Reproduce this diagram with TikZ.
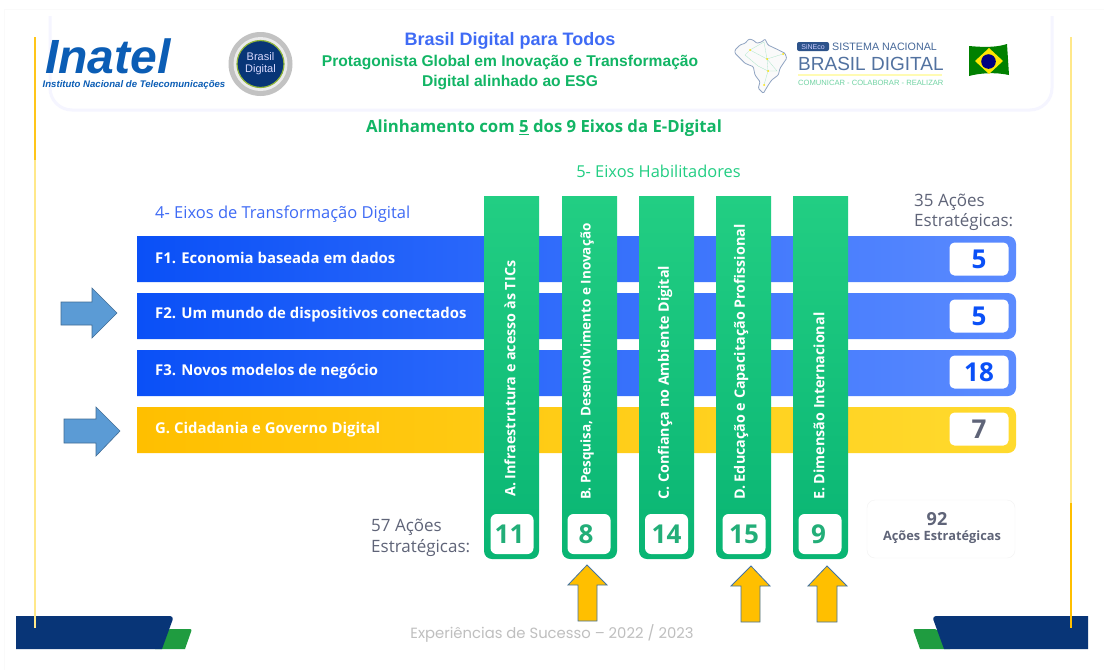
\documentclass[tikz,border=0pt]{standalone}
\usepackage{fontspec}
\setmainfont{Open Sans}
\newfontfamily\headfont{Liberation Sans}
\newfontfamily\footfont{Poppins}
\usepackage{tikz}

\definecolor{barblue}{HTML}{0A50F7}
\definecolor{barblueend}{HTML}{5B8BFF}
\definecolor{baryellow}{HTML}{FFBF00}
\definecolor{baryellowend}{HTML}{FFDA2E}
\definecolor{coltop}{HTML}{22CE83}
\definecolor{colbot}{HTML}{09B573}
\definecolor{coldigit}{HTML}{22AE78}
\definecolor{titleblue}{HTML}{3F6BF5}
\definecolor{titlegreen}{HTML}{12B565}
\definecolor{navy}{HTML}{083577}
\definecolor{footgreen}{HTML}{1F9C40}
\definecolor{greytext}{HTML}{5F6478}
\definecolor{arrowblue}{HTML}{5B9BD5}
\definecolor{inatelblue}{HTML}{0B5DB5}
\definecolor{paleline}{HTML}{FFE88A}

\tikzset{
  rowtext/.style={text=white,font=\bfseries\fontsize{14.9}{16}\selectfont,anchor=base west,inner sep=0pt},
  coltext/.style={text=white,font=\bfseries\fontsize{14.3}{15}\selectfont,rotate=90,anchor=west,inner sep=0pt},
  valbox/.style={draw=none,fill=white,rounded corners=5pt,minimum width=59pt,minimum height=33pt,inner sep=0pt,font=\bfseries\fontsize{26}{27}\selectfont},
  colbox/.style={draw=none,fill=white,rounded corners=6pt,minimum width=43pt,minimum height=40pt,inner sep=0pt,text=coldigit,font=\bfseries\fontsize{26}{27}\selectfont},
  sidetext/.style={text=greytext,align=left,inner sep=0pt,font=\fontsize{17}{20.5}\selectfont},
  rightarrow/.style={draw=arrowblue!70!black,fill=arrowblue,line width=.6pt},
  uparrow/.style={draw=arrowblue!75!black,fill=baryellow,line width=.8pt},
  headline/.style={inner sep=0pt,font=\headfont\bfseries\fontsize{15.6}{17}\selectfont}
}

\begin{document}
\begin{tikzpicture}[x=1pt,y=-1pt]
\useasboundingbox (0,0) rectangle (1104,670);
\fill[white] (0,0) rectangle (1104,670);
\draw[black!2] (4,670) -- (4,9) -- (1104,9);

% header panel
\draw[draw=blue!4,line width=3pt,fill=white,rounded corners=22pt] (50,14) -- (50,110) -- (1052,110) -- (1052,14);
\fill[white] (48,10) rectangle (1054,16);

% side lines
\draw[paleline,line width=2pt] (35,160) -- (35,628);
\draw[baryellow!90!white,line width=2.5pt] (35,37) -- (35,160);
\draw[paleline,line width=2.5pt] (1071,37) -- (1071,503);

% footer
\fill[footgreen,rounded corners=2pt] (155,649) [rounded corners=2pt] -- (168,629) -- (192,629) [sharp corners] -- (185,649) -- cycle;
\fill[navy] (16,649) -- (16,616) [rounded corners=4pt] -- (174,616) [sharp corners] -- (162,649) -- cycle;
\fill[footgreen,rounded corners=2pt] (950,649) -- (937,629) -- (913,629) [sharp corners] -- (920,649) -- cycle;
\fill[navy] (1088,649) -- (1088,616) [rounded corners=4pt] -- (932,616) [sharp corners] -- (944,649) -- cycle;
\draw[paleline,line width=1.5pt] (35,616) -- (35,628);
\draw[baryellow,line width=2.5pt] (1071,503) -- (1071,628);
\node[inner sep=0pt,text=black!25,font=\footfont\fontsize{14.8}{16}\selectfont] (footer) at (552,633) {Experiências de Sucesso – 2022 / 2023};

% logos
\node[inner sep=0pt,text depth=0pt,text=inatelblue,font=\headfont\bfseries\itshape\fontsize{48}{49}\selectfont] (inatel) at (108,56) {Inatel};
\node[inner sep=0pt,text=inatelblue,font=\headfont\bfseries\itshape\fontsize{9.6}{10}\selectfont] (inatelsub) at (134,85) {Instituto Nacional de Telecomunicações};
\fill[black!24] (260.5,64) circle (32pt);
\fill[black!8] (260.5,64) circle (27pt);
\draw[yellow!60!green!80!black,line width=1.2pt,fill=navy] (260.5,64) circle (23.5pt);
\node[inner sep=0pt,align=center,text=white!85!blue,font=\headfont\fontsize{11}{12}\selectfont] (seal) at (260.5,64) {Brasil\\Digital};

% brazil
\draw[draw=navy!45,fill=black!2,line width=.8pt,rounded corners=1pt] (735,50) -- (740,45) -- (745,43.3) -- (749,39) -- (753,40) -- (757,43.3) -- (762,41.7) -- (765,39) -- (768,45) -- (775,48.3) -- (785,53.3) -- (786.7,58.3) -- (780,68.3) -- (778.3,75) -- (771.7,80) -- (768.3,85) -- (763.3,93.3) -- (758.3,88.3) -- (760,81.7) -- (755,75) -- (753.3,66.7) -- (745,63.3) -- (740,58.3) -- (735,53.3) -- cycle;
\draw[titlegreen!35,line width=.3pt] (750,50) -- (767,59) -- (783,54) (750,50) -- (764,42) -- (767,59) -- (768,71) -- (777,71) -- (767,59) (768,71) -- (764,85) (745,55) -- (750,50) (745,55) -- (758,66) -- (768,71);
\fill[yellow!85!orange] (750,50) circle (1pt) (767,59) circle (1pt) (783,54) circle (1pt) (768,71) circle (1pt) (764,85) circle (1pt);

% sistema nacional
\node[fill=navy!85,text=white!80!blue,rounded corners=2pt,inner sep=1pt,minimum width=32pt,minimum height=9pt,font=\headfont\fontsize{7}{8}\selectfont] (sineco) at (813,46.5) {SiNEco};
\node[inner sep=0pt,anchor=west,text=navy!75,font=\headfont\fontsize{10.7}{12}\selectfont] (sistema) at (832,47) {SISTEMA NACIONAL};
\node[inner sep=0pt,anchor=west,text=navy!70,font=\headfont\fontsize{19}{21}\selectfont] (brasildigital) at (798,63.5) {BRASIL DIGITAL};
\draw[yellow!30,line width=1.2pt] (798,75) -- (942,75);
\node[inner sep=0pt,anchor=west,text=titlegreen!60,font=\headfont\fontsize{7.6}{9}\selectfont] (comunicar) at (798,83) {COMUNICAR - COLABORAR - REALIZAR};

% flag
\fill[green!50!black] (969,46) .. controls (980,47) and (995,48) .. (1007,44) -- (1009,75) .. controls (995,72) and (980,73) .. (969,76) -- cycle;
\fill[yellow!90!orange] (975,61) -- (989,48) -- (1003,61) -- (989,74) -- cycle;
\fill[blue!50!black] (988.5,61.5) circle (7.3pt);

% titles
\node[headline,text=titleblue,font=\headfont\bfseries\fontsize{18}{20}\selectfont] (title) at (510,41) {Brasil Digital para Todos};
\node[headline,text=titlegreen] (subone) at (510,62) {Protagonista Global em Inovação e Transformação};
\node[headline,text=titlegreen] (subtwo) at (510,82) {Digital alinhado ao ESG};
\node[inner sep=0pt,text=titlegreen,font=\bfseries\fontsize{16.75}{18}\selectfont] (alinhamento) at (544,128.5) {Alinhamento com \underline{5} dos 9 Eixos da E-Digital};
\node[inner sep=0pt,text=coltop,font=\fontsize{16.4}{18}\selectfont] (habilitadores) at (658.5,171) {5- Eixos Habilitadores};
\node[inner sep=0pt,anchor=west,text=titleblue,font=\fontsize{16.5}{18}\selectfont] (transformacao) at (155,214) {4- Eixos de Transformação Digital};

% rows
\shade[left color=barblue,right color=barblueend,rounded corners=8pt] (137,236) [sharp corners] -- (137,282) [rounded corners=8pt] -- (1016,282) -- (1016,236) [sharp corners] -- cycle;
\shade[left color=barblue,right color=barblueend,rounded corners=8pt] (137,293) [sharp corners] -- (137,339) [rounded corners=8pt] -- (1016,339) -- (1016,293) [sharp corners] -- cycle;
\shade[left color=barblue,right color=barblueend,rounded corners=8pt] (137,350) [sharp corners] -- (137,396) [rounded corners=8pt] -- (1016,396) -- (1016,350) [sharp corners] -- cycle;
\shade[left color=baryellow,right color=baryellowend,rounded corners=8pt] (137,407) [sharp corners] -- (137,453) [rounded corners=8pt] -- (1016,453) -- (1016,407) [sharp corners] -- cycle;

\node[rowtext] (fone) at (155,263) {F1. Economia baseada em dados};
\node[rowtext] (ftwo) at (155,318) {F2. Um mundo de dispositivos conectados};
\node[rowtext] (fthree) at (155,375.5) {F3. Novos modelos de negócio};
\node[rowtext] (gov) at (155,433.5) {G. Cidadania e Governo Digital};

\node[valbox,text=barblue] (vone) at (979,259) {5};
\node[valbox,text=barblue] (vtwo) at (979,316) {5};
\node[valbox,text=barblue] (vthree) at (979,372) {18};
\node[valbox,text=greytext] (vfour) at (979,429) {7};

% columns
\shade[top color=coltop,bottom color=colbot,rounded corners=8pt] (484,196) [sharp corners] -- (539,196) [rounded corners=8pt] -- (539,559) -- (484,559) [sharp corners] -- cycle;
\shade[top color=coltop,bottom color=colbot,rounded corners=8pt] (562,196) [sharp corners] -- (617,196) [rounded corners=8pt] -- (617,559) -- (562,559) [sharp corners] -- cycle;
\shade[top color=coltop,bottom color=colbot,rounded corners=8pt] (639,196) [sharp corners] -- (694,196) [rounded corners=8pt] -- (694,559) -- (639,559) [sharp corners] -- cycle;
\shade[top color=coltop,bottom color=colbot,rounded corners=8pt] (716,196) [sharp corners] -- (771,196) [rounded corners=8pt] -- (771,559) -- (716,559) [sharp corners] -- cycle;
\shade[top color=coltop,bottom color=colbot,rounded corners=8pt] (793,196) [sharp corners] -- (848,196) [rounded corners=8pt] -- (848,559) -- (793,559) [sharp corners] -- cycle;

\node[coltext] (ca) at (510,497) {A. Infraestrutura e acesso às TICs};
\node[coltext,font=\bfseries\fontsize{13.5}{15}\selectfont] (cb) at (587,500) {B. Pesquisa, Desenvolvimento e Inovação};
\node[coltext] (cc) at (665,500) {C. Confiança no Ambiente Digital};
\node[coltext] (cd) at (741,500) {D. Educação e Capacitação Profissional};
\node[coltext] (ce) at (819,500) {E. Dimensão Internacional};

\node[colbox] (va) at (512,534) {11\kern5pt};
\node[colbox] (vb) at (589,534) {8\kern6pt};
\node[colbox] (vc) at (666.5,534) {14};
\node[colbox] (vd) at (744,534) {15};
\node[colbox] (ve) at (820,534) {9\kern3pt};

% totals
\node[sidetext,anchor=north west] (topsum) at (914,193.5) {35 Ações\\Estratégicas:};
\node[sidetext,anchor=west] (leftsum) at (371,538) {57 Ações\\Estratégicas:};
\node[draw=black!5,fill=white,rounded corners=8pt,minimum width=148pt,minimum height=58pt,inner sep=0pt] (totalbox) at (941,529) {};
\node[inner sep=0pt,text=greytext,font=\bfseries\fontsize{18}{20}\selectfont] (total) at (937,519) {92};
\node[inner sep=0pt,text=greytext,font=\bfseries\fontsize{12.8}{14}\selectfont] (totaltxt) at (942,537) {Ações Estratégicas};

% arrows
\draw[rightarrow] (61,302) -- (92,302) -- (92,288) -- (117,313) -- (92,338) -- (92,325) -- (61,325) -- cycle;
\draw[rightarrow] (64,419) -- (96,419) -- (96,407) -- (120,431) -- (96,456) -- (96,443) -- (64,443) -- cycle;
\draw[uparrow] (578,621) -- (578,585) -- (568,585) -- (587,565) -- (607,585) -- (597,585) -- (597,621) -- cycle;
\draw[uparrow] (741,622) -- (741,586) -- (731,586) -- (751,566) -- (770,586) -- (760,586) -- (760,622) -- cycle;
\draw[uparrow] (817,622) -- (817,586) -- (808,586) -- (827,566) -- (847,586) -- (837,586) -- (837,622) -- cycle;
\end{tikzpicture}
\end{document}
